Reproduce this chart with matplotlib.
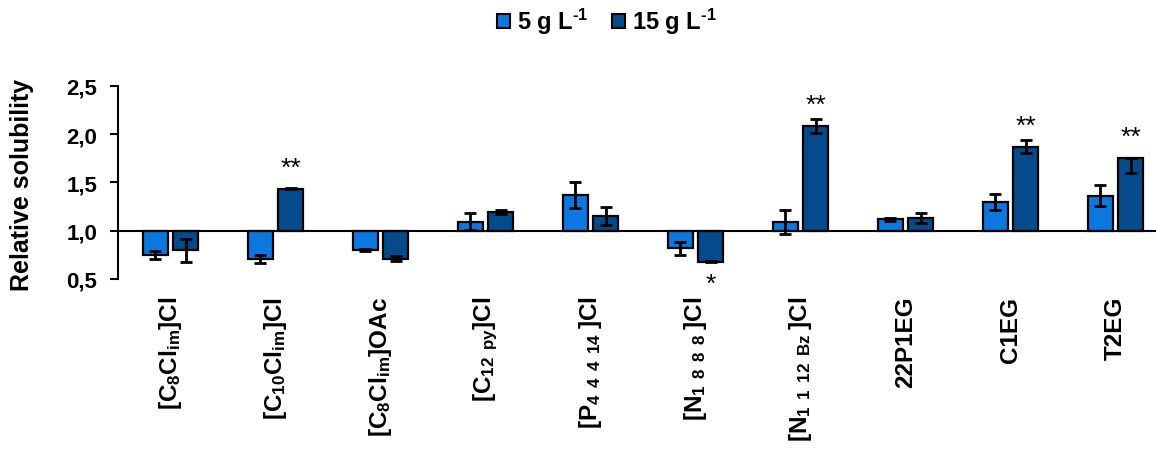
import matplotlib
matplotlib.use("Agg")
import matplotlib.pyplot as plt
import numpy as np
from matplotlib.patches import Patch

plt.rcParams['font.family'] = ['Liberation Sans', 'DejaVu Sans']
plt.rcParams['font.weight'] = 'bold'
plt.rcParams['mathtext.fontset'] = 'custom'
plt.rcParams['mathtext.rm'] = 'Liberation Sans:bold'
plt.rcParams['mathtext.it'] = 'Liberation Sans:bold'
plt.rcParams['mathtext.bf'] = 'Liberation Sans:bold'
plt.rcParams['mathtext.default'] = 'rm'

categories = [r'[C$_8$Cl$_{im}$]Cl', r'[C$_{10}$Cl$_{im}$]Cl', r'[C$_8$Cl$_{im}$]OAc',
              r'[C$_{12\ \,py}$]Cl', r'[P$_{4\ \,4\ \,4\ \,14\ }$]Cl',
              r'[N$_{1\ \,8\ \,8\ \,8\ }$]Cl',
              r'[N$_{1\ \,1\ \,12\ \,Bz\ }$]Cl', '22P1EG', 'C1EG', 'T2EG']
series_names = [r'5 g L$^{\text{-1}}$', r'15 g L$^{\text{-1}}$']

v5 = [0.745, 0.707, 0.797, 1.093, 1.369, 0.816, 1.086, 1.12, 1.30, 1.36]
e5 = [0.041, 0.041, 0.010, 0.090, 0.133, 0.064, 0.124, 0.015, 0.084, 0.109]
v15 = [0.795, 1.434, 0.71, 1.197, 1.155, 0.679, 2.086, 1.128, 1.869, 1.755]
e15_low = [0.117, 0.005, 0.024, 0.020, 0.095, 0.005, 0.071, 0.052, 0.070, 0.159]
e15_high = [0.117, 0.005, 0.024, 0.020, 0.095, 0.005, 0.071, 0.052, 0.070, 0.0]
sig15 = ['', '**', '', '', '', '*', '**', '', '**', '**']

yticks = [0.5, 1.0, 1.5, 2.0, 2.5]
ytick_labels = ['0,5', '1,0', '1,5', '2,0', '2,5']

c5 = '#0A78DE'
c15 = '#054B8B'

W, H = 1156, 452
fig = plt.figure(figsize=(W / 100, H / 100), dpi=100)
ax = fig.add_axes([118 / W, 1 - 280 / H, 1050 / W, (280 - 86.7) / H])

x = np.arange(len(categories))
bw = 0.233
off = 0.143
v5a = np.array(v5)
v15a = np.array(v15)
ax.bar(x - off, v5a - 1.0, bottom=1.0, width=bw, color=c5, edgecolor='black', linewidth=1.6, zorder=2)
ax.bar(x + off, v15a - 1.0, bottom=1.0, width=bw, color=c15, edgecolor='black', linewidth=1.6, zorder=2)
ax.errorbar(x - off, v5a, yerr=e5, fmt='none', ecolor='black', elinewidth=2, capsize=4, capthick=2, zorder=3)
ax.errorbar(x + off, v15a, yerr=[e15_low, e15_high], fmt='none', ecolor='black', elinewidth=2,
            capsize=4, capthick=2, zorder=3)

for xi, val, s in zip(x, v15a, sig15):
    if not s:
        continue
    if val >= 1.0:
        ax.annotate(s, (xi + off, val), xytext=(0, 15), textcoords='offset points',
                    ha='center', va='center', fontsize=19, fontweight='normal')
    else:
        ax.annotate(s, (xi + off, val), xytext=(0, -16), textcoords='offset points',
                    ha='center', va='center', fontsize=19, fontweight='normal')

ax.axhline(1.0, color='black', linewidth=1.5, zorder=4)
ax.set_xlim(-0.5, len(categories) - 0.5)
ax.set_ylim(0.5, 2.5)
ax.set_yticks(yticks)
ax.set_yticklabels(ytick_labels, fontsize=16, fontweight='bold')
ax.set_xticks(x)
ax.set_xticklabels(categories, rotation=90, fontsize=17.5, fontweight='bold')
ax.tick_params(axis='x', length=0, pad=12)
ax.tick_params(axis='y', length=6, width=1.5, direction='out', pad=9)
for sp in ['top', 'right', 'bottom']:
    ax.spines[sp].set_visible(False)
ax.spines['left'].set_linewidth(1.5)
ax.set_ylabel('Relative solubility', fontsize=18, fontweight='bold', va='center')
ax.yaxis.set_label_coords((22 - 118) / 1050, 0.49)

handles = [Patch(facecolor=c5, edgecolor='black', linewidth=1.5),
           Patch(facecolor=c15, edgecolor='black', linewidth=1.5)]
fig.legend(handles, series_names, loc='center', bbox_to_anchor=(607 / W, 1 - 22 / H), ncol=2,
           frameon=False, handlelength=0.55, handleheight=0.55, handletextpad=0.3,
           columnspacing=1.0, prop={'weight': 'bold', 'size': 17})

fig.savefig('out.png', dpi=100)
